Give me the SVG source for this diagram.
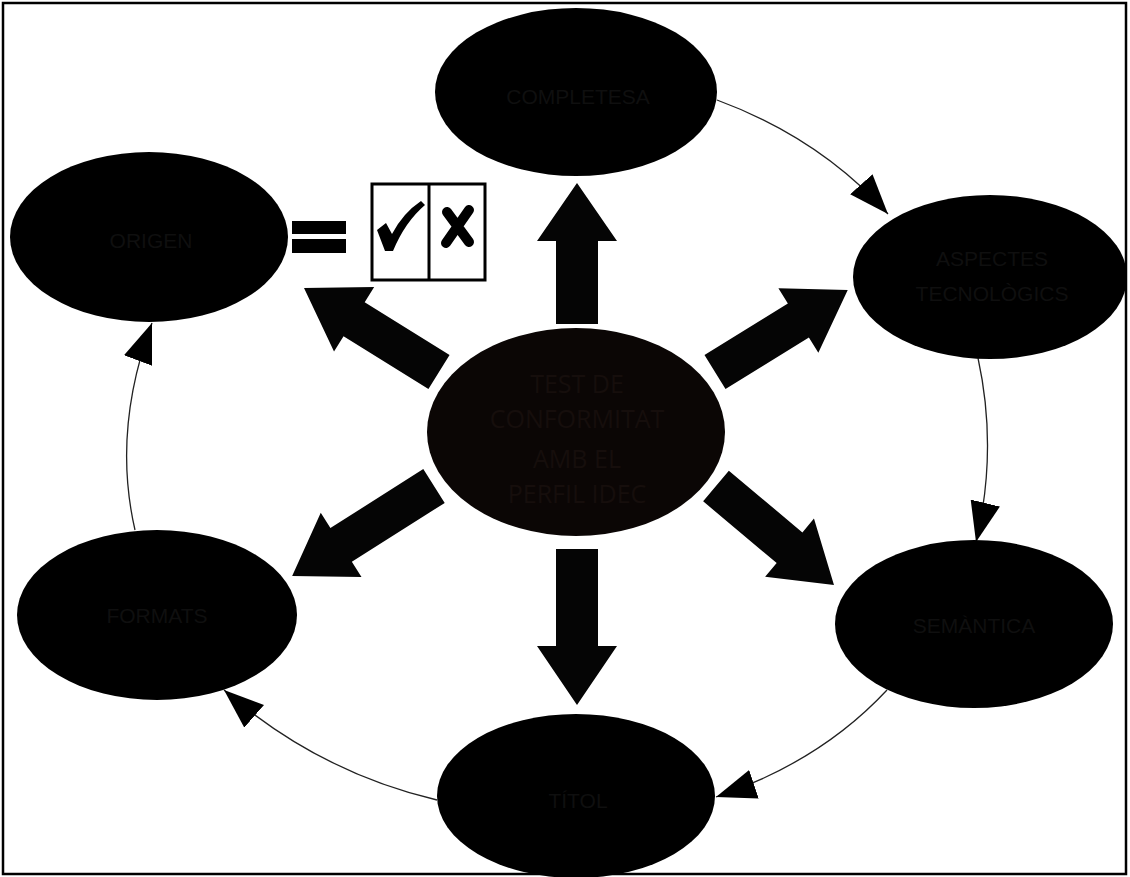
<svg xmlns="http://www.w3.org/2000/svg" width="1130" height="877" viewBox="0 0 1130 877">
  <defs>
    <style>
      .node { fill: #000; }
      .lbl { font-family: "Liberation Sans", Arial, sans-serif; font-size: 21px; fill: #0f0f0f; text-anchor: middle; dominant-baseline: central; }
      .center-lbl { font-family: "Open Sans", "Liberation Sans", sans-serif; font-size: 25px; fill: #160e0c; text-anchor: middle; dominant-baseline: central; }
      .ring { fill: none; stroke: #222; stroke-width: 1.3; marker-end: url(#head); }
      .block { fill: #050505; }
      .box { fill: #fff; stroke: #000; stroke-width: 3; }
    </style>
    <marker id="head" markerUnits="userSpaceOnUse" markerWidth="42" markerHeight="32" refX="40" refY="15" orient="auto" viewBox="0 0 42 32">
      <path d="M0,0 L40,15 L0,30 Z" fill="#000"/>
    </marker>
  </defs>

  <rect width="1130" height="877" fill="#fff"/>
  <rect x="3" y="3" width="1123" height="871" fill="none" stroke="#000" stroke-width="2.5"/>

  <!-- cycle connectors -->
  <g id="connectors">
    <path class="ring" d="M717,100 Q820,138 888,214"/>
    <path class="ring" d="M978,358 Q998,450 976,542"/>
    <path class="ring" d="M887,690 Q820,762 716,797"/>
    <path class="ring" d="M437,800 Q318,772 224,690"/>
    <path class="ring" d="M135,530 Q112,430 152,323"/>
  </g>

  <!-- thick arrows radiating from the centre -->
  <g id="spokes">
    <path class="block" transform="translate(577,324) rotate(-90)" d="M0,-21 L83,-21 L83,-40 L141,0 L83,40 L83,21 L0,21 Z"/>
    <path class="block" transform="translate(577,549) rotate(90)" d="M0,-21 L97,-21 L97,-40 L156,0 L97,40 L97,21 L0,21 Z"/>
    <path class="block" transform="translate(439,372) rotate(211.9)" d="M0,-20 L100,-20 L100,-38 L159,0 L100,38 L100,20 L0,20 Z"/>
    <path class="block" transform="translate(715,372) rotate(-31.7)" d="M0,-20 L98,-20 L98,-38 L156,0 L98,38 L98,20 L0,20 Z"/>
    <path class="block" transform="translate(434,486) rotate(147.6)" d="M0,-20 L110,-20 L110,-38 L168,0 L110,38 L110,20 L0,20 Z"/>
    <path class="block" transform="translate(716,486) rotate(40)" d="M0,-20 L96,-20 L96,-38 L154,0 L96,38 L96,20 L0,20 Z"/>
  </g>

  <g id="node-center">
    <ellipse cx="576" cy="432" rx="149" ry="104" fill="#0b0605"/>
    <text class="center-lbl" x="577" y="383">TEST DE</text>
    <text class="center-lbl" x="577" y="418">CONFORMITAT</text>
    <text class="center-lbl" x="577" y="458">AMB EL</text>
    <text class="center-lbl" x="577" y="493">PERFIL IDEC</text>
  </g>

  <g id="node-top">
    <ellipse class="node" cx="576" cy="92" rx="141" ry="84"/>
    <text class="lbl" x="578" y="96">COMPLETESA</text>
  </g>

  <g id="node-right-top">
    <ellipse class="node" cx="990" cy="277" rx="137" ry="82"/>
    <text class="lbl" x="992" y="258">ASPECTES</text>
    <text class="lbl" x="992" y="293">TECNOLÒGICS</text>
  </g>

  <g id="node-right-bottom">
    <ellipse class="node" cx="974" cy="624" rx="139" ry="84"/>
    <text class="lbl" x="974" y="625">SEMÀNTICA</text>
  </g>

  <g id="node-bottom">
    <ellipse class="node" cx="576" cy="796" rx="139" ry="82"/>
    <text class="lbl" x="578" y="800">TÍTOL</text>
  </g>

  <g id="node-left-bottom">
    <ellipse class="node" cx="157" cy="615" rx="140" ry="85"/>
    <text class="lbl" x="157" y="615">FORMATS</text>
  </g>

  <g id="node-left-top">
    <ellipse class="node" cx="149" cy="237" rx="139" ry="85"/>
    <text class="lbl" x="151" y="240">ORIGEN</text>
  </g>

  <!-- result: equals sign and pass / fail box -->
  <g id="result">
    <rect x="292" y="221" width="54" height="13" fill="#000"/>
    <rect x="292" y="239" width="54" height="14" fill="#000"/>
    <rect class="box" x="372" y="184" width="113" height="96"/>
    <line x1="429" y1="184" x2="429" y2="280" stroke="#000" stroke-width="3"/>
    <path d="M377,230 L386,223 L392,234 Q403,213 421,201 L425,205 Q405,222 393,251 L385,251 Z" fill="#000"/>
    <path d="M447,212 L469,242 M469,210 L446,243" stroke="#000" stroke-width="10" stroke-linecap="round"/>
  </g>
</svg>
